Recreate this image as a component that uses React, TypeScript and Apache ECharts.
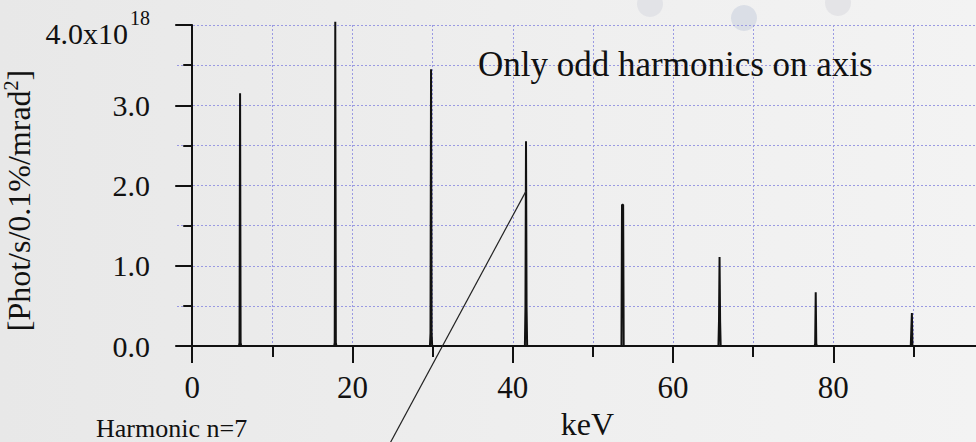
import React, { useEffect, useRef } from 'react';
import * as echarts from 'echarts';

// ---- data ----
const harmonicOrder = [1, 3, 5, 7, 9, 11, 13, 15];
const harmonicEnergy = [5.97, 17.85, 29.8, 41.65, 53.7, 65.8, 77.8, 89.8]; // keV
const harmonicPeak = [3.15, 4.04, 3.45, 2.55, 1.76, 1.11, 0.67, 0.41]; // x1e18
const harmonicShoulder = [0.04, 0.04, 0.16, 0.48, 1.76, 0.31, 0.03, 0.0];
const xMajorTicks = [0, 20, 40, 60, 80];
const xMinorTicks = [0, 10, 20, 30, 40, 50, 60, 70, 80, 90];
const xRange = [-1.9, 97.8];
const yRange = [0, 4];
const titleText = 'Only odd harmonics on axis';
const annotationText = 'Harmonic n=7';
const annotationHarmonic = 7;
const annotationValue = 1.93;

const FONT = '"Liberation Serif", "Times New Roman", serif';
const INK = '#111111';
const GRID = { color: '#9a9ae2', type: [2, 2] as number[], width: 1 };

function buildSpectrum(): number[][] {
  const pts: number[][] = [[xRange[0], 0]];
  harmonicEnergy.forEach((e, i) => {
    const pk = harmonicPeak[i];
    const sh = harmonicShoulder[i];
    pts.push([e - 0.14, 0], [e - 0.07, sh], [e, pk], [e + 0.07, sh], [e + 0.14, 0]);
  });
  pts.push([xRange[1], 0]);
  return pts;
}

export default function App() {
  const ref = useRef<HTMLDivElement>(null);

  useEffect(() => {
    const chart = echarts.init(ref.current!, null, { renderer: 'svg' });
    const annIdx = harmonicOrder.indexOf(annotationHarmonic);
    const option: any = {
      animation: false,
      backgroundColor: 'transparent',
      textStyle: { fontFamily: FONT, color: INK },
      title: {
        text: titleText,
        left: 478,
        top: 47,
        padding: 0,
        textStyle: { fontFamily: FONT, fontSize: 35, fontWeight: 'normal', color: INK },
      },
      grid: {
        left: 177,
        right: 0,
        top: 25,
        bottom: 96,
        containLabel: false,
        outerBoundsMode: 'none',
      },
      xAxis: [
        {
          type: 'value',
          min: xRange[0],
          max: xRange[1],
          position: 'bottom',
          axisLine: { show: true, onZero: false, lineStyle: { color: INK, width: 2 } },
          axisTick: { show: true, customValues: xMajorTicks, length: 17, lineStyle: { color: INK, width: 2 } },
          axisLabel: {
            customValues: xMajorTicks,
            fontFamily: FONT,
            fontSize: 31,
            color: INK,
            margin: 26,
          },
          splitLine: { show: false },
          name: 'keV',
          nameLocation: 'middle',
          nameGap: 62,
          nameTextStyle: { fontFamily: FONT, fontSize: 32, color: INK, padding: [0, 0, 0, 22] },
        },
        {
          type: 'value',
          min: xRange[0],
          max: xRange[1],
          position: 'bottom',
          axisLine: { show: false, onZero: false },
          axisTick: { show: true, customValues: xMinorTicks, length: 11, lineStyle: { color: INK, width: 2 } },
          axisLabel: { show: false, customValues: xMinorTicks },
          splitLine: { show: true, lineStyle: GRID },
        },
      ],
      yAxis: {
        type: 'value',
        min: yRange[0],
        max: yRange[1],
        interval: 1,
        axisLine: { show: true, lineStyle: { color: INK, width: 2 } },
        axisTick: { show: true, length: 17, lineStyle: { color: INK, width: 2 } },
        minorTick: { show: true, splitNumber: 2, length: 9, lineStyle: { color: INK, width: 2 } },
        splitLine: { show: true, lineStyle: GRID },
        minorSplitLine: { show: true, lineStyle: GRID },
        axisLabel: {
          margin: 27,
          fontFamily: FONT,
          fontSize: 30,
          color: INK,
          formatter: (v: number) =>
            v === yRange[1] ? '{m|' + v.toFixed(1) + 'x10}{s|18}' : v.toFixed(1),
          rich: {
            m: { fontFamily: FONT, fontSize: 30, color: INK, padding: [17, 0, 0, 0] },
            s: { fontFamily: FONT, fontSize: 20, color: INK, verticalAlign: 'top', padding: [6, 0, 0, 2] },
          },
        },
        name: '{a|[Phot/s/0.1%/mrad}{b|2}{a|]}',
        nameLocation: 'middle',
        nameGap: 136,
        nameTextStyle: {
          fontFamily: FONT,
          color: INK,
          padding: [0, 30, 0, 0],
          rich: {
            a: { fontFamily: FONT, fontSize: 32, color: INK, verticalAlign: 'bottom' },
            b: { fontFamily: FONT, fontSize: 20, color: INK, verticalAlign: 'bottom', padding: [0, 0, 14, 0] },
          },
        },
      },
      series: [
        {
          type: 'line',
          xAxisIndex: 0,
          data: buildSpectrum(),
          showSymbol: false,
          symbol: 'none',
          clip: false,
          lineStyle: { color: INK, width: 2 },
          markLine: {
            silent: true,
            symbol: ['none', 'none'],
            label: { show: false },
            lineStyle: { color: '#222222', width: 1.2, type: 'solid' },
            data: [
              [
                { coord: [harmonicEnergy[annIdx], annotationValue] },
                { x: 381, y: 460 },
              ],
            ],
          },
        },
      ],
      graphic: [
        { type: 'circle', shape: { cx: 650, cy: 4, r: 13 }, style: { fill: '#e2e3e7' }, silent: true, z: -10 },
        { type: 'circle', shape: { cx: 744, cy: 18, r: 13 }, style: { fill: '#dadee6' }, silent: true, z: -10 },
        { type: 'circle', shape: { cx: 838, cy: 3, r: 13 }, style: { fill: '#e4e4e7' }, silent: true, z: -10 },
        {
          type: 'text',
          left: 96,
          top: 415,
          silent: true,
          style: { text: annotationText, fontFamily: FONT, fontSize: 26, fill: INK },
        },
      ],
    };
    chart.setOption(option);
    return () => chart.dispose();
  }, []);

  return (
    <div
      ref={ref}
      style={{
        position: 'absolute',
        left: 0,
        top: 0,
        width: 976,
        height: 442,
        background: 'linear-gradient(90deg, #e8e8e8 0%, #efefef 60%, #f3f3f3 100%)',
      }}
    />
  );
}
